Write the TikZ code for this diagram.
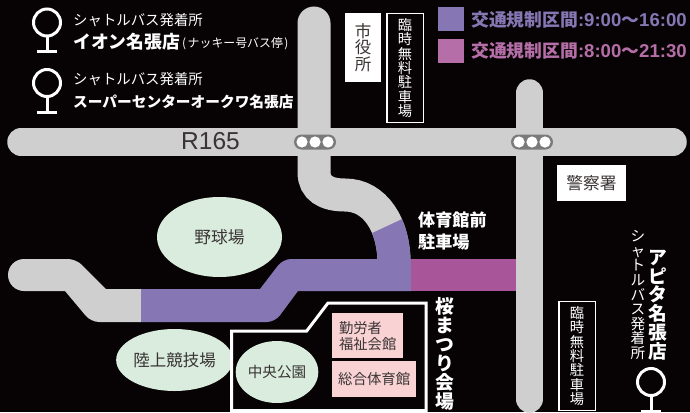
\documentclass[tikz,border=0pt]{standalone}
\usepackage{fontspec}
\setmainfont{Noto Sans CJK JP}
\newfontfamily\latinbold{Liberation Sans}[Scale=1]
\definecolor{bgblack}{HTML}{070304}
\definecolor{roadgray}{HTML}{CFCFCF}
\definecolor{signalgray}{HTML}{7A7A7A}
\definecolor{limitblue}{HTML}{8677B4}
\definecolor{limitpink}{HTML}{B56EA8}
\definecolor{roadpink}{HTML}{A8559A}
\definecolor{parkgreen}{HTML}{D9ECDD}
\definecolor{hallpink}{HTML}{F9D2D3}
\definecolor{labelgray}{HTML}{3A3434}
\def\fsz#1{\fontsize{#1}{#1}\selectfont}
\def\busstop(#1,#2){
	\draw[busline] (#1,#2) circle (13.5);
	\draw[busline] (#1,#2+14) -- (#1,#2+29);
	\draw[busline] (#1-10,#2+29) -- (#1+10,#2+29);
}
\def\signal(#1,#2){
	\fill[signalgray,rounded corners=7.5] (#1-21,#2-7.5) rectangle (#1+21,#2+7.5);
	\foreach \dx in {-13,0,13}
		\fill[white] (#1+\dx,#2) circle (5.6);
}
\tikzset{
	busline/.style={draw=white,line width=3},
	road/.style={draw=roadgray,line cap=round},
	whitebox/.style={fill=white,text=labelgray,inner sep=0,align=center},
	parkingbox/.style={draw=white,line width=1.5,fill=bgblack,text=white,inner sep=0,align=center,minimum width=36.5,minimum height=109},
	park/.style={ellipse,fill=parkgreen,text=labelgray,inner sep=0},
	hall/.style={fill=hallpink,text=labelgray,inner sep=0,anchor=north west},
	lightlabel/.style={text=white,inner sep=0,anchor=west},
	boldlabel/.style={text=white,inner sep=0,font=\bfseries},
}
\usetikzlibrary{shapes.geometric}
\begin{document}
\begin{tikzpicture}[x=1pt,y=-1pt]
	%%%%% START %%%%%
	\clip (0,0) rectangle (690,412);
	\fill[bgblack] (0,0) rectangle (690,412);
	\def\curve{(314,23) -- (314,172) .. controls (314,188) and (326,195) .. (345,195) .. controls (375,195) and (394,225) .. (394,263)}

	% roads
	\fill[roadgray] (141,289) -- (106,289) [rounded corners=8] -- (76,259) [sharp corners] -- (24,259) arc (270:90:16) -- (65,291) [rounded corners=8] -- (91,322) [sharp corners] -- (141,322) -- cycle;
	\draw[road,line width=33] \curve;
	\draw[road,line width=27.5] (21,142) -- (673,142);
	\draw[road,line width=27.5] (529.5,93) -- (529.5,399);

	% closed sections
	\fill[limitblue] (141,289) -- (260,289) [rounded corners=8] -- (283,259) [sharp corners] -- (411,259) -- (411,291) -- (298,291) [rounded corners=8] -- (275,322) [sharp corners] -- (141,322) -- cycle;
	\begin{scope}
		\clip (360,238.7) -- (420,210.7) -- (420,262) -- (360,262) -- cycle;
		\draw[draw=limitblue,line width=33] \curve;
	\end{scope}
	\fill[roadpink] (411,259) rectangle (516,291);

	\signal(315,142)
	\signal(532,142)

	\node[text=labelgray,inner sep=0,font={\latinbold\fsz{24.5}}] (r165) at (210.5,141.5) {R165};

	% bus stops
	\busstop(47,22.5)
	\busstop(47,83)
	\busstop(651,382)
	\node[lightlabel,font=\fsz{14.4}] (stopaone) at (73,20.5) {シャトルバス発着所};
	\node[boldlabel,anchor=west,font=\bfseries\fsz{17.8}] (stopatwo) at (73,41.5) {イオン名張店};
	\node[lightlabel,font=\fsz{11.9}] (stopathree) at (182,44) {(\kern1.5ptナッキー号バス停\kern1.5pt)};
	\node[lightlabel,font=\fsz{14.4}] (stopbone) at (73,79.5) {シャトルバス発着所};
	\node[boldlabel,anchor=west,font=\bfseries\fsz{14.7}] (stopbtwo) at (73,102) {スーパーセンターオークワ名張店};
	\node[text=white,inner sep=0,align=center,font=\fontsize{14.6}{14.6}\selectfont] (stopcone) at (638,295) {シ\\ャ\\ト\\ル\\バ\\ス\\発\\着\\所};
	\node[boldlabel,align=center,font=\bfseries\fontsize{18.7}{18.7}\selectfont] (stopctwo) at (658,305) {ア\\ピ\\タ\\名\\張\\店};

	% legend
	\fill[limitblue] (438,7) rectangle (464,31);
	\fill[limitpink] (438,39) rectangle (464,63);
	\node[lightlabel,text=limitblue,font=\bfseries\fsz{17.8}] (limitone) at (471,20) {交通規制区間{\latinbold\fsz{18.6}:9:00}～{\latinbold\fsz{18.6}16:00}};
	\node[lightlabel,text=limitpink,font=\bfseries\fsz{17.8}] (limittwo) at (471,51) {交通規制区間{\latinbold\fsz{18.6}:8:00}～{\latinbold\fsz{18.6}21:30}};

	% buildings
	\node[whitebox,minimum width=36,minimum height=69,font=\fontsize{16.5}{16.5}\selectfont] (cityhall) at (363,47.5) {市\\役\\所};
	\node[parkingbox,font=\fontsize{14.3}{14.3}\selectfont] (parkingone) at (405,68) {臨\\時\\無\\料\\駐\\車\\場};
	\node[parkingbox,font=\fontsize{14.3}{14.3}\selectfont] (parkingtwo) at (577,356) {臨\\時\\無\\料\\駐\\車\\場};
	\node[whitebox,minimum width=69,minimum height=36,font=\fsz{16.7}] (police) at (591.5,183) {警察署};

	% parks
	\node[park,minimum width=125,minimum height=80,font=\fsz{16.7}] (baseball) at (219.5,237) {野球場};
	\node[park,minimum width=98,minimum height=62,font=\fsz{16.5}] (stadium) at (174.5,360) {陸上競技場};
	\node[park,minimum width=75,minimum height=62,font=\fsz{14.6}] (centralpark) at (277,372) {中央公園};

	% festival site
	\draw[draw=white,line width=3] (231.5,331) -- (306.7,331) -- (328,303) -- (426,303) -- (426,410.5) -- (231.5,410.5) -- cycle;
	\node[hall,minimum width=71,minimum height=45,align=left,font=\fontsize{14.3}{16}\selectfont] (welfare) at (332,313) {勤労者\\福祉会館};
	\node[hall,minimum width=84,minimum height=36,font=\fsz{14.4}] (gym) at (332,361) {総合体育館};
	\node[boldlabel,anchor=north west,align=left,font=\bfseries\fontsize{17.1}{21.7}\selectfont] (frontparking) at (418,212) {体育館前\\駐車場};
	\node[boldlabel,anchor=south,align=center,font=\bfseries\fontsize{18.8}{19}\selectfont] (festival) at (444.5,411) {桜\\ま\\つ\\り\\会\\場};
	%%%%% END %%%%%
\end{tikzpicture}
\end{document}
